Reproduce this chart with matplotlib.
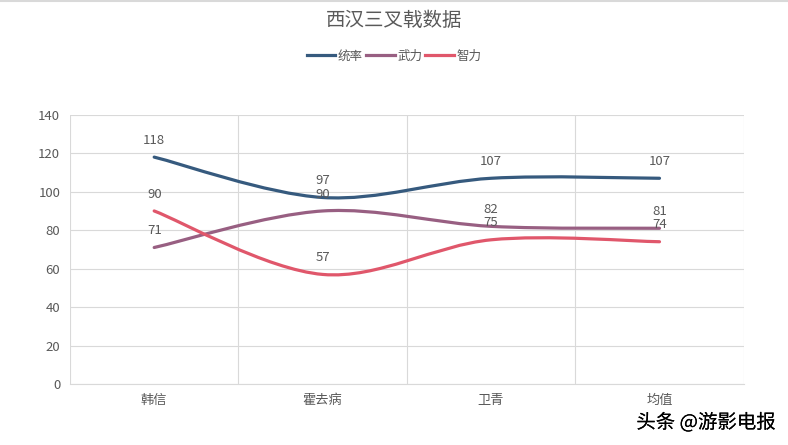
import numpy as np
import matplotlib
matplotlib.use('Agg')
import matplotlib.pyplot as plt
from matplotlib.path import Path
from matplotlib.patches import PathPatch
import matplotlib.patheffects as pe

plt.rcParams['font.family'] = ['Noto Sans CJK SC', 'DejaVu Sans']

# data
names = ['韩信', '霍去病', '卫青', '均值']
series = ['统率', '武力', '智力']
tongshuai = [118, 97, 107, 107]
wuli = [71, 90, 82, 81]
zhili = [90, 57, 75, 74]
colors = ['#365a7e', '#985f82', '#e0576b']
gray = '#595959'

def smooth_path(x, y):
    # Excel-like smoothing: cubic bezier through the points (catmull-rom tangents)
    pts = np.column_stack([x, y]).astype(float)
    n = len(pts)
    verts = [pts[0]]
    codes = [Path.MOVETO]
    for i in range(n - 1):
        p0 = pts[max(i - 1, 0)]
        p1 = pts[i]
        p2 = pts[i + 1]
        p3 = pts[min(i + 2, n - 1)]
        c1 = p1 + (p2 - p0) / 6.0
        c2 = p2 - (p3 - p1) / 6.0
        verts += [c1, c2, p2]
        codes += [Path.CURVE4] * 3
    return Path(verts, codes)

fig = plt.figure(figsize=(7.88, 4.45), dpi=100)
ax = fig.add_axes([0.0888, 0.137, 0.855, 0.605])

x = np.arange(len(names))
for vals, lab, c in zip([tongshuai, wuli, zhili], series, colors):
    patch = PathPatch(smooth_path(x, vals), facecolor='none', edgecolor=c,
                      lw=2.3, capstyle='round', joinstyle='round', zorder=3)
    ax.add_patch(patch)
    ax.plot([], [], color=c, lw=2.3, label=lab)
    for xi, v in zip(x, vals):
        ax.annotate(str(v), (xi, v), xytext=(0, 7.5), textcoords='offset points',
                    ha='center', va='bottom', fontsize=9.5, color=gray, zorder=4)

ax.set_xlim(-0.5, 3.5)
ax.set_ylim(0, 140)
ax.set_yticks(range(0, 141, 20))
ax.set_xticks(x)
ax.set_xticklabels(names)
ax.set_xticks(np.arange(-0.5, 3.6, 1), minor=True)
ax.grid(axis='y', color='#d9d9d9', lw=0.8)
ax.grid(axis='x', which='minor', color='#d9d9d9', lw=0.8)
ax.set_axisbelow(True)
for s in ['top', 'right']:
    ax.spines[s].set_visible(False)
ax.spines['left'].set_visible(False)
ax.spines['bottom'].set_color('#d9d9d9')
ax.tick_params(which='both', length=0, colors=gray, labelsize=9.5, pad=7)

fig.text(0.5, 0.953, '西汉三叉戟数据', ha='center', va='center', fontsize=14, color=gray)
fig.legend(loc='center', bbox_to_anchor=(0.5, 0.874), ncol=3, frameon=False,
           fontsize=9, labelcolor=gray, handlelength=2.3, handletextpad=0.2,
           columnspacing=0.25)

wm = fig.text(0.985, 0.05, '头条 @游影电报', ha='right', va='center', fontsize=14, color='black')
wm.set_path_effects([pe.withSimplePatchShadow(offset=(1, -1), shadow_rgbFace='white', alpha=1.0), pe.Normal()])

fig.add_artist(plt.Line2D([0, 1], [0.998, 0.998], color='#d9d9d9', lw=1.5))

fig.savefig('out.png', dpi=100)
